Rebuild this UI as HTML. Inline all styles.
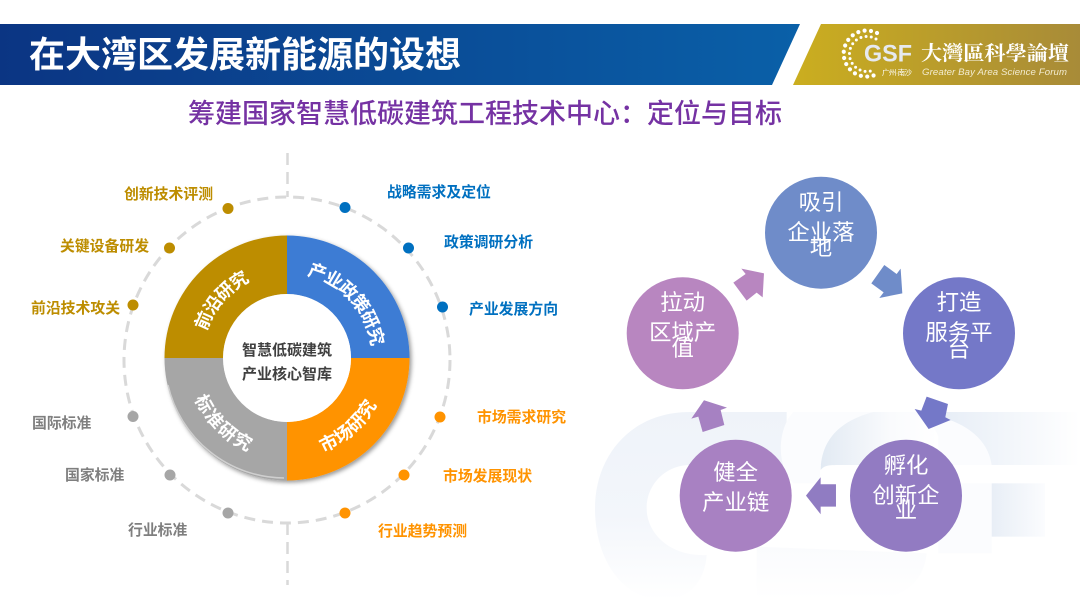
<!DOCTYPE html>
<html><head><meta charset="utf-8">
<style>
html,body{margin:0;padding:0;background:#fff;width:1080px;height:608px;overflow:hidden}
svg{display:block}
text{font-family:"Liberation Sans","Noto Sans CJK SC",sans-serif}
.l{font-size:14.850px;font-weight:700}
.c{font-size:22.400px;fill:#fff;text-anchor:middle}
.r{font-size:18px;font-weight:700;fill:#fff}
</style></head><body>
<svg width="1080" height="608" viewBox="0 0 1080 608" xmlns="http://www.w3.org/2000/svg">
<defs>
<linearGradient id="b" x1="0" x2="1" y1="0" y2="0"><stop offset="0" stop-color="#0b3583"/><stop offset="1" stop-color="#0a60a8"/></linearGradient>
<linearGradient id="g" x1="0" x2="1" y1="0" y2="0"><stop offset="0" stop-color="#cbae1f"/><stop offset="1" stop-color="#a88b38"/></linearGradient>
<linearGradient id="w1" x1="0" x2="0" y1="0" y2="1"><stop offset="0" stop-color="#eff3f9"/><stop offset=".55" stop-color="#f3f6fb"/><stop offset="1" stop-color="#fff"/></linearGradient>
<linearGradient id="w2" x1="0" x2="1" y1="0" y2="0"><stop offset="0" stop-color="#e2eaf3"/><stop offset=".6" stop-color="#fafbfd"/><stop offset="1" stop-color="#fff"/></linearGradient>
<linearGradient id="w3" x1="0" x2="1" y1="0" y2="0"><stop offset="0" stop-color="#e6edf6"/><stop offset="1" stop-color="#fff"/></linearGradient>
<linearGradient id="w4" x1="0" x2="1" y1="0" y2="0"><stop offset="0" stop-color="#e8eef6"/><stop offset="1" stop-color="#fbfcfe"/></linearGradient>
<linearGradient id="w5" x1="0" x2="0" y1="0" y2="1"><stop offset="0" stop-color="#fafbfd"/><stop offset="1" stop-color="#fff"/></linearGradient>
<filter id="sh" x="-10%" y="-10%" width="125%" height="125%"><feDropShadow dx="2" dy="2" stdDeviation="2" flood-color="#000" flood-opacity=".4"/></filter>
<path id="pa" d="M287 273 A 85 85 0 0 1 372 358"/>
<path id="pb" d="M287 459 A 101 101 0 0 0 388 358"/>
<path id="pc" d="M186 358 A 101 101 0 0 0 287 459"/>
<path id="pd" d="M202 358 A 85 85 0 0 1 287 273"/>
</defs>

<!-- watermark -->
<g transform="translate(580 400) scale(.3333)">
<path d="M330 36C150 36 45 170 45 325C45 480 130 600 250 600C330 600 375 540 380 465C270 470 200 400 200 325C200 250 260 195 330 195H620V36Z" fill="url(#w1)"/>
<path d="M530 470V600H880C930 600 1030 570 1040 460L530 440Z" fill="url(#w5)"/>
<path d="M640 36H1000C1130 36 1220 90 1235 195H720V250H640C590 200 590 90 640 36Z" fill="#fbfcfe"/>
<path d="M880 36C790 60 725 110 722 210C735 195 745 195 790 195H1075V110C1060 60 1000 36 950 36Z" fill="url(#w2)"/>
<path d="M1075 36H1500V195H1235C1225 120 1160 70 1075 50Z" fill="url(#w3)"/>
<rect x="1235" y="250" width="160" height="160" fill="url(#w4)"/>
<path d="M1075 320V460H1235V250H1090Z" fill="#fbfcfe"/>
</g>

<!-- header -->
<polygon points="0,24 800,24 772,85 0,85" fill="url(#b)"/>
<polygon points="821,24 1080,24 1080,85 793,85" fill="url(#g)"/>
<text x="29" y="67" font-size="36" font-weight="700" fill="#fff">在大湾区发展新能源的设想</text>
<g fill="none" stroke="#fff" stroke-linecap="round">
<path d="M877 33A23 23 0 1 0 879 73" stroke-width="4.200" stroke-dasharray="0 6.400"/>
<path d="M876 39A17.500 17.500 0 1 0 874 70" stroke-width="3" stroke-dasharray="0 5.200"/>
</g>
<text x="864" y="61.500" font-size="24" font-weight="700" fill="#e6e9ef" textLength="48" lengthAdjust="spacingAndGlyphs">GSF</text>
<text x="882" y="75" font-size="7.500" fill="#fff" textLength="30">广州·南沙</text>
<text x="921" y="60" font-size="20" font-weight="700" fill="#fff" style="font-family:'Noto Serif CJK SC',serif" textLength="148" lengthAdjust="spacingAndGlyphs">大灣區科學論壇</text>
<text x="922" y="75" font-size="9.600" font-style="italic" fill="#f3ecd0" textLength="145">Greater Bay Area Science Forum</text>

<text x="188" y="123" font-size="27" font-weight="500" fill="#7532a3">筹建国家智慧低碳建筑工程技术中心：定位与目标</text>

<!-- dashed ring -->
<circle cx="287" cy="360" r="163" fill="none" stroke="#d9d9d9" stroke-width="3" stroke-dasharray="11 7"/>
<path d="M287.500 153V197M287.500 523V585" stroke="#d9d9d9" stroke-width="2.500" stroke-dasharray="12 7" fill="none"/>

<!-- donut -->
<g filter="url(#sh)">
<path d="M287 235.500A122.500 122.500 0 0 1 409.500 358H351A64 64 0 0 0 287 294Z" fill="#3c7cd4"/>
<path d="M409.500 358A122.500 122.500 0 0 1 287 480.500V422A64 64 0 0 0 351 358Z" fill="#ff9300"/>
<path d="M287 480.500A122.500 122.500 0 0 1 164.500 358H223A64 64 0 0 0 287 422Z" fill="#a6a6a6"/>
<path d="M164.500 358A122.500 122.500 0 0 1 287 235.500V294A64 64 0 0 0 223 358Z" fill="#bd8d00"/>
</g>
<circle cx="287" cy="358" r="64" fill="#fff"/>
<path d="M168 385A120 120 0 0 0 284 478" fill="none" stroke="#cfcfcf" stroke-width="1.500"/>

<text class="r" letter-spacing="-1.200"><textPath href="#pa" startOffset="20">产业政策研究</textPath></text>
<text class="r" letter-spacing=".3"><textPath href="#pb" startOffset="37">市场研究</textPath></text>
<text class="r" letter-spacing="1.500"><textPath href="#pc" startOffset="42">标准研究</textPath></text>
<text class="r" letter-spacing="-1.200"><textPath href="#pd" startOffset="27">前沿研究</textPath></text>

<text x="287" y="355" font-size="15" font-weight="700" fill="#404040" text-anchor="middle">智慧低碳建筑</text>
<text x="287" y="379" font-size="15" font-weight="700" fill="#404040" text-anchor="middle">产业核心智库</text>

<!-- dots -->
<g fill="#bd8d00"><circle cx="228" cy="208.500" r="5.500"/><circle cx="169.500" cy="248" r="5.500"/><circle cx="133" cy="305" r="5.500"/></g>
<g fill="#a6a6a6"><circle cx="133" cy="416.500" r="5.500"/><circle cx="170" cy="475" r="5.500"/><circle cx="228" cy="513" r="5.500"/></g>
<g fill="#0070c0"><circle cx="345" cy="207.500" r="5.500"/><circle cx="408.500" cy="248" r="5.500"/><circle cx="442.500" cy="307" r="5.500"/></g>
<g fill="#ff9300"><circle cx="440" cy="417" r="5.500"/><circle cx="404" cy="475" r="5.500"/><circle cx="345" cy="513" r="5.500"/></g>

<!-- labels -->
<g fill="#bd8d00">
<text class="l" x="124" y="199">创新技术评测</text>
<text class="l" x="60" y="251">关键设备研发</text>
<text class="l" x="31" y="313">前沿技术攻关</text>
</g>
<g fill="#7f7f7f">
<text class="l" x="32" y="428">国际标准</text>
<text class="l" x="65" y="480">国家标准</text>
<text class="l" x="128" y="535">行业标准</text>
</g>
<g fill="#0070c0">
<text class="l" x="387" y="197">战略需求及定位</text>
<text class="l" x="444" y="247">政策调研分析</text>
<text class="l" x="469" y="314">产业发展方向</text>
</g>
<g fill="#ff9300">
<text class="l" x="477" y="422">市场需求研究</text>
<text class="l" x="443" y="481">市场发展现状</text>
<text class="l" x="378" y="536">行业趋势预测</text>
</g>

<!-- cycle -->
<g transform="translate(600 170) scale(.3333)">
<polygon points="814,340 853,285 890,312 902,296 907,370 838,384 851,367" fill="#6f8cc9"/>
<polygon points="980,680 1044,702 1036,742 1052,750 986,777 944,717 964,722" fill="#7478c8"/>
<polygon points="708,943 662,943 662,922 618,977 662,1033 662,1010 708,1010" fill="#907cc2"/>
<polygon points="308,786 373,765 362,720 381,713 312,691 274,746 295,740" fill="#a681c2"/>
<polygon points="400,338 440,392 470,368 488,382 492,310 424,296 437,312" fill="#b886c0"/>
</g>
<circle cx="821" cy="232.700" r="56" fill="#6f8cc9"/>
<circle cx="959" cy="333.300" r="56" fill="#7478c8"/>
<circle cx="906" cy="495.700" r="56" fill="#927bc2"/>
<circle cx="735.700" cy="495.700" r="56" fill="#a881c2"/>
<circle cx="682.700" cy="333.300" r="56" fill="#b886c0"/>

<text class="c" x="821" y="210">吸引</text>
<text class="c" x="821" y="240">企业落</text>
<text class="c" x="821" y="255">地</text>
<text class="c" x="959" y="310">打造</text>
<text class="c" x="959" y="340">服务平</text>
<text class="c" x="959" y="357">台</text>
<text class="c" x="906" y="473">孵化</text>
<text class="c" x="906" y="503">创新企</text>
<text class="c" x="906" y="518">业</text>
<text class="c" x="735.700" y="480">健全</text>
<text class="c" x="735.700" y="510">产业链</text>
<text class="c" x="682.700" y="310">拉动</text>
<text class="c" x="682.700" y="340">区域产</text>
<text class="c" x="682.700" y="356">值</text>
</svg>
</body></html>
